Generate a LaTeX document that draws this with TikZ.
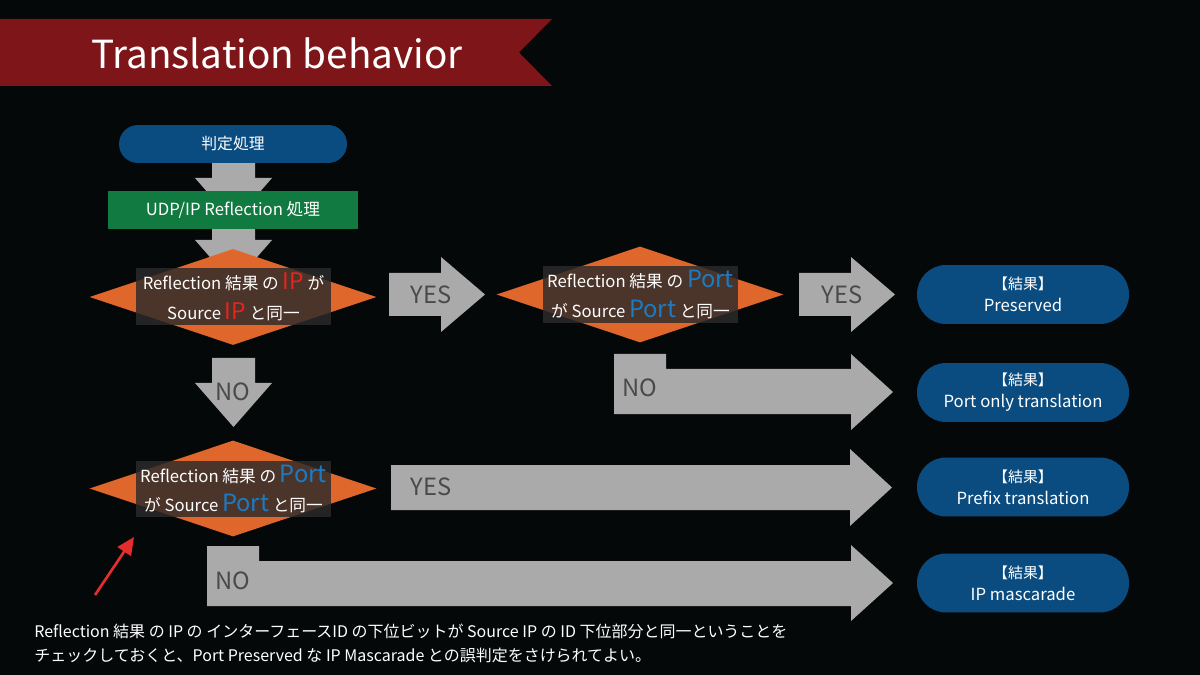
\documentclass[tikz,border=0pt]{standalone}
\usepackage{fontspec}
\setmainfont{Noto Sans CJK JP}
\usetikzlibrary{shapes.geometric,arrows.meta}

\definecolor{bgblack}{HTML}{050808}
\definecolor{bannerred}{HTML}{7E1518}
\definecolor{flowblue}{HTML}{0B4C80}
\definecolor{flowgreen}{HTML}{117A40}
\definecolor{decorange}{HTML}{DF672B}
\definecolor{shadegray}{HTML}{2B2B2B}
\definecolor{arrowgray}{HTML}{AAAAAA}
\definecolor{labelgray}{HTML}{4A4A4A}
\definecolor{hlred}{HTML}{E8241E}
\definecolor{hlblue}{HTML}{1B7CC4}
\definecolor{pointred}{HTML}{E52D2D}

\newcommand{\bigred}[1]{{\color{hlred}\fontsize{13}{17}\selectfont #1}}
\newcommand{\bigblue}[1]{{\color{hlblue}\fontsize{13.5}{17}\selectfont #1}}
\newcommand{\kekka}{{\fontsize{8.5}{12.5}\selectfont 【結果】}}

\begin{document}
\begin{tikzpicture}[x=0.02cm, y=-0.02cm,
  startbox/.style={fill=flowblue, rounded corners=0.38cm, minimum width=4.56cm,
    minimum height=0.76cm, text=white, font=\fontsize{9}{11}\selectfont},
  procbox/.style={fill=flowgreen, minimum width=5cm, minimum height=0.76cm,
    text=white, font=\fontsize{9.5}{11}\selectfont},
  decision/.style={diamond, fill=decorange, inner sep=0pt,
    minimum width=5.74cm, minimum height=1.92cm},
  decshade/.style={fill=shadegray, fill opacity=0.82, text opacity=1, text=white,
    minimum width=3.9cm, minimum height=1.14cm, align=center, inner sep=0pt,
    font=\fontsize{9.5}{17}\selectfont},
  resultbox/.style={fill=flowblue, rounded corners=0.58cm, minimum width=4.24cm,
    minimum height=1.18cm, text=white, align=center,
    font=\fontsize{9.5}{12.5}\selectfont},
  flowarrow/.style={fill=arrowgray},
  answer/.style={text=labelgray, font=\fontsize{13.5}{15}\selectfont, inner sep=0pt},
  notetext/.style={text=white, font=\fontsize{9.1}{11}\selectfont, inner sep=0pt}
]
  \useasboundingbox (0,0) rectangle (1200,675);
  \fill[bgblack] (0,0) rectangle (1200,675);

  % title banner
  \fill[bannerred] (0,19) -- (552,19) -- (519,52.5) -- (552,86) -- (0,86) -- cycle;
  \node[text=white, font=\fontsize{22}{26}\selectfont] (title) at (277,53) {Translation behavior};

  % block arrows
  \fill[flowarrow] (212,163) -- (255,163) -- (255,178) -- (272,178) -- (233.5,222)
    -- (195,178) -- (212,178) -- cycle;
  \fill[flowarrow] (212,229) -- (255,229) -- (255,240) -- (272,240) -- (233.5,284)
    -- (195,240) -- (212,240) -- cycle;
  \fill[flowarrow] (389,273) -- (441,273) -- (441,257) -- (485,294.5) -- (441,332)
    -- (441,316) -- (389,316) -- cycle;
  \fill[flowarrow] (799,273) -- (851,273) -- (851,257) -- (895,294.5) -- (851,332)
    -- (851,316) -- (799,316) -- cycle;
  \fill[flowarrow] (212,358) -- (255,358) -- (255,383) -- (272,383) -- (233.5,427)
    -- (195,383) -- (212,383) -- cycle;
  \fill[flowarrow] (614,354) -- (666,354) -- (666,369) -- (851,369) -- (851,354)
    -- (893,392) -- (851,430) -- (851,414) -- (614,414) -- cycle;
  \fill[flowarrow] (391,465) -- (850,465) -- (850,449) -- (892,487.5) -- (850,526)
    -- (850,510) -- (391,510) -- cycle;
  \fill[flowarrow] (207,546) -- (259,546) -- (259,561) -- (851,561) -- (851,545)
    -- (893,583) -- (851,621) -- (851,606) -- (207,606) -- cycle;

  \node[answer] (yes1) at (431,295) {YES};
  \node[answer] (yes2) at (842,295) {YES};
  \node[answer] (no1) at (233,392) {NO};
  \node[answer] (no2) at (640,388) {NO};
  \node[answer] (yes3) at (431,487) {YES};
  \node[answer] (no3) at (233,581) {NO};

  % flow
  \node[startbox] (judge) at (233,144) {判定処理};
  \node[procbox] (reflect) at (233,210) {UDP/IP Reflection 処理};

  \node[decision] (ipsame) at (233,297) {};
  \node[decshade] (ipsametext) at (233.5,296.5)
    {Reflection 結果 の \bigred{IP} が\\Source \bigred{IP} と同一};

  \node[decision] (portsame) at (640,294.5) {};
  \node[decshade] (portsametext) at (640.5,294.5)
    {Reflection 結果 の \bigblue{Port}\\が Source \bigblue{Port} と同一};

  \node[decision] (portsame2) at (233,488.5) {};
  \node[decshade] (portsame2text) at (233.5,489)
    {Reflection 結果 の \bigblue{Port}\\が Source \bigblue{Port} と同一};

  % results
  \node[resultbox] (preserved) at (1023,294.5) {\kekka\\Preserved};
  \node[resultbox] (portonly) at (1023,392.5) {\kekka\\Port only translation};
  \node[resultbox] (prefix) at (1023,487) {\kekka\\Prefix translation};
  \node[resultbox] (mascarade) at (1023,583) {\kekka\\IP mascarade};

  % note
  \coordinate (pointtail) at (95,595);
  \coordinate (pointhead) at (134,537);
  \draw[pointred, line width=1.5pt, -{Triangle[length=10pt,width=9pt]}] (pointtail) -- (pointhead);

  \node[notetext, anchor=base west] (note1) at (34,637)
    {Reflection 結果 の IP の インターフェースID の下位ビットが Source IP の ID 下位部分と同一ということを};
  \node[notetext, anchor=base west] (note2) at (34,661)
    {チェックしておくと、Port Preserved な IP Mascarade との誤判定をさけられてよい。};
\end{tikzpicture}
\end{document}
